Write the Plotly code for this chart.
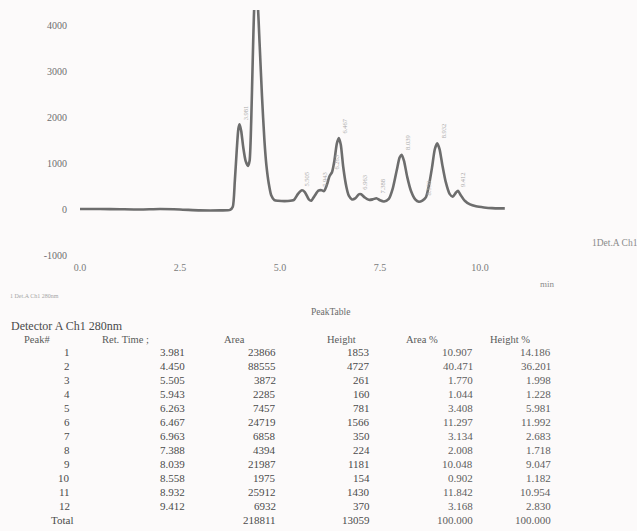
import numpy as np
import plotly.graph_objects as go

# ---- chromatogram trace: retention time (min) vs detector signal ----
time_min = [0.00, 0.50, 1.00, 1.50, 2.00, 2.50, 3.00, 3.50, 3.75, 3.82, 3.87, 3.92, 3.96,
            3.99, 4.03, 4.08, 4.14, 4.20, 4.24, 4.28, 4.32, 4.36, 4.40, 4.44, 4.49, 4.55,
            4.61, 4.66, 4.72, 4.78, 4.86, 4.95, 5.20, 5.35, 5.45, 5.55, 5.62, 5.72, 5.78,
            5.86, 5.96, 6.04, 6.10, 6.17, 6.24, 6.30, 6.36, 6.42, 6.47, 6.52, 6.58, 6.66,
            6.72, 6.80, 6.88, 6.97, 7.03, 7.12, 7.22, 7.32, 7.41, 7.50, 7.60, 7.72, 7.82,
            7.92, 7.99, 8.04, 8.10, 8.18, 8.28, 8.38, 8.47, 8.56, 8.65, 8.72, 8.80, 8.87,
            8.93, 8.99, 9.06, 9.14, 9.24, 9.32, 9.40, 9.45, 9.52, 9.62, 9.75, 9.90, 10.10,
            10.30, 10.50, 10.62]
signal = [0, 0, -5, -10, 0, -10, -30, -30, -20, 50, 600, 1300, 1750,
          1845, 1700, 1350, 1050, 940, 1050, 1900, 3300, 4450, 4727, 4500, 3600, 2450,
          1500, 950, 550, 300, 195, 180, 175, 200, 330, 410, 370, 210, 180,
          280, 400, 410, 390, 520, 720, 800, 1050, 1420, 1545, 1400, 920, 480,
          290, 210, 230, 320, 320, 250, 200, 210, 235, 190, 165, 220, 450,
          850, 1120, 1180, 1050, 700, 380, 210, 160, 185, 260, 500, 900, 1300,
          1430, 1300, 950, 600, 330, 270, 360, 395, 300, 180, 100, 60, 35,
          20, 15, 15]

# ---- peak table ----
peak_no = [1, 2, 3, 4, 5, 6, 7, 8, 9, 10, 11, 12]
ret_time = [3.981, 4.450, 5.505, 5.943, 6.263, 6.467, 6.963, 7.388, 8.039, 8.558, 8.932, 9.412]
area = [23866, 88555, 3872, 2285, 7457, 24719, 6858, 4394, 21987, 1975, 25912, 6932]
height = [1853, 4727, 261, 160, 781, 1566, 350, 224, 1181, 154, 1430, 370]
area_pct = [10.907, 40.471, 1.770, 1.044, 3.408, 11.297, 3.134, 2.008, 10.048, 0.902, 11.842, 3.168]
height_pct = [14.186, 36.201, 1.998, 1.228, 5.981, 11.992, 2.683, 1.718, 9.047, 1.182, 10.954, 2.830]
total_area = 218811
total_height = 13059
total_area_pct = 100.000
total_height_pct = 100.000

headers = ["Peak#", "Ret. Time ;", "Area", "Height", "Area %", "Height %"]
y_ticks = [-1000, 0, 1000, 2000, 3000, 4000]
x_ticks = [0.0, 2.5, 5.0, 7.5, 10.0]

# ---- page geometry (pixels) ----
W, H = 637, 531
L, T, BOT = 75, 10, 255
X_RANGE = [-0.125, 13.925]
Y_RANGE = [-1000, 4330]

SERIF = "Liberation Serif, Times New Roman, serif"
INK = "#4a4a4a"
FAINT = "#8a8a8a"


def px(x):
    return (x - L) / (W - L)


def py(y):
    return (BOT - y) / (BOT - T)


fig = go.Figure()
fig.add_trace(go.Scatter(
    x=time_min, y=signal, mode="lines",
    line=dict(color="#6d6d6d", width=2.6, shape="spline", smoothing=0.6),
    hoverinfo="skip", showlegend=False,
))

ann = []

# retention-time labels printed vertically beside each peak
for rt in ret_time:
    yv = float(np.interp(rt, time_min, signal))
    if yv + 300 > Y_RANGE[1]:
        continue
    ann.append(dict(x=rt + 0.15, y=yv, xref="x", yref="y", text=f"{rt:.3f}",
                    textangle=-90, showarrow=False, yanchor="bottom", xanchor="center",
                    yshift=3, font=dict(family=SERIF, size=6.5, color="#a8a8a8")))

# chart captions
ann += [
    dict(x=px(547), y=py(284), text="min", font=dict(size=9, color=FAINT)),
    dict(x=px(590), y=py(243), text="1Det.A Ch1", xanchor="left", font=dict(size=9.5, color=FAINT)),
    dict(x=px(8), y=py(296), text="1 Det.A Ch1 280nm", xanchor="left",
         font=dict(size=6, color="#a5a5a5")),
    dict(x=px(330), y=py(312), text="PeakTable", font=dict(size=9.5, color="#6a6a6a")),
    dict(x=px(9), y=py(326), text="Detector A Ch1 280nm", xanchor="left",
         font=dict(size=12, color=INK)),
]

# table header
header_left = [22, 100, 222, 325, 404, 488]
for name, hx in zip(headers, header_left):
    ann.append(dict(x=px(hx), y=py(339), text=name, xanchor="left",
                    font=dict(size=10.5, color="#5a5a5a")))

# table body
col_right = [72, 187, 278, 372, 475, 553]
row0, row_step = 352, 14.0
for i in range(len(peak_no)):
    ry = row0 + row_step * i
    cells = [str(peak_no[i]), f"{ret_time[i]:.3f}", str(area[i]), str(height[i]),
             f"{area_pct[i]:.3f}", f"{height_pct[i]:.3f}"]
    for c, txt in enumerate(cells):
        ann.append(dict(x=px(col_right[c]), y=py(ry), text=txt, xanchor="right",
                        font=dict(size=11, color=INK if c < 4 else "#5e5e5e")))

ry = row0 + row_step * len(peak_no)
ann.append(dict(x=px(62), y=py(ry), text="Total", xanchor="center", font=dict(size=11, color=INK)))
for c, txt in zip([2, 3, 4, 5], [str(total_area), str(total_height),
                                 f"{total_area_pct:.3f}", f"{total_height_pct:.3f}"]):
    ann.append(dict(x=px(col_right[c]), y=py(ry), text=txt, xanchor="right",
                    font=dict(size=11, color=INK if c < 4 else "#5e5e5e")))

for a in ann:
    a.setdefault("xref", "paper")
    a.setdefault("yref", "paper")
    a.setdefault("showarrow", False)
    a.setdefault("yanchor", "middle")
    a.setdefault("xanchor", "center")
    a["font"].setdefault("family", SERIF)

fig.update_layout(
    width=W, height=H,
    margin=dict(l=L, r=0, t=T, b=H - BOT, pad=0),
    paper_bgcolor="#fcfafa", plot_bgcolor="#fcfafa",
    showlegend=False,
    annotations=ann,
    xaxis=dict(range=X_RANGE, tickvals=x_ticks, ticktext=[f"{v:.1f}" for v in x_ticks],
               showgrid=False, zeroline=False, showline=False,
               ticks="outside", ticklen=3, tickcolor="rgba(0,0,0,0)",
               tickfont=dict(family=SERIF, size=10, color="#7a7a7a")),
    yaxis=dict(range=Y_RANGE, tickvals=y_ticks, ticktext=[str(v) for v in y_ticks],
               showgrid=False, zeroline=False, showline=False,
               ticks="outside", ticklen=5, tickcolor="rgba(0,0,0,0)",
               tickfont=dict(family=SERIF, size=10, color="#6e6e6e")),
)

fig.write_html("out.html")
